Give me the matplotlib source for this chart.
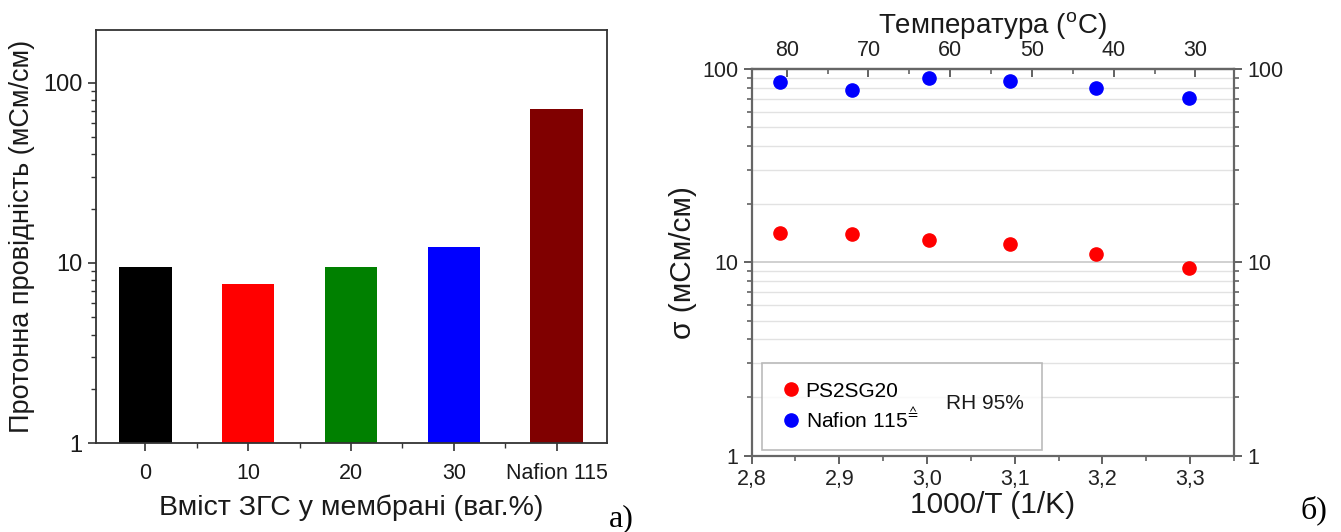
import matplotlib.pyplot as plt
from matplotlib.ticker import FuncFormatter, LogLocator, MultipleLocator, NullFormatter

plt.rcParams['font.family'] = ['Liberation Sans', 'DejaVu Sans']
plt.rcParams['mathtext.fontset'] = 'custom'
plt.rcParams['mathtext.rm'] = 'Liberation Sans'

# panel a: conductivity vs filler content
categories = ['0', '10', '20', '30', 'Nafion 115']
conductivity = [9.5, 7.6, 9.5, 12.3, 71.7]
bar_colors = ['#000000', '#ff0000', '#008000', '#0000ff', '#800000']

# panel b: conductivity vs 1000/T
inv_temp = [2.832, 2.914, 3.002, 3.095, 3.193, 3.299]
sigma_ps2sg20 = [14.1, 14.0, 13.0, 12.4, 11.0, 9.3]
sigma_nafion = [86.0, 77.8, 89.5, 86.7, 79.8, 70.4]
temp_labels = [80, 70, 60, 50, 40, 30]

fig = plt.figure(figsize=(13.41, 5.32), dpi=100)

# ---- a) ----
ax1 = fig.add_axes([0.0716, 0.1667, 0.381, 0.777])
xs = range(len(categories))
ax1.bar(xs, conductivity, width=0.51, color=bar_colors, bottom=0)
ax1.set_yscale('log')
ax1.set_ylim(1, 196)
ax1.set_xlim(-0.48, 4.49)
ax1.set_xticks(list(xs))
ax1.set_xticklabels(categories)
ax1.xaxis.set_minor_locator(MultipleLocator(0.5))
ax1.yaxis.set_major_locator(LogLocator(base=10))
ax1.yaxis.set_minor_locator(LogLocator(base=10, subs=range(2, 10)))
ax1.yaxis.set_minor_formatter(NullFormatter())
ax1.yaxis.set_major_formatter(FuncFormatter(lambda v, p: '%g' % v))
ax1.tick_params(axis='both', which='major', direction='out', length=6, width=1.2, colors='#333333')
ax1.tick_params(axis='both', which='minor', direction='out', length=3.5, width=1.0, colors='#333333')
ax1.tick_params(axis='x', which='major', labelsize=15.5, labelcolor='#1a1a1a', pad=8)
ax1.tick_params(axis='y', which='major', labelsize=17, labelcolor='#1a1a1a')
for s in ax1.spines.values():
    s.set_color('#333333')
    s.set_linewidth(1.3)
ax1.set_xlabel('Вміст ЗГС у мембрані (ваг.%)', fontsize=20.5, color='#1a1a1a', labelpad=8)
ax1.set_ylabel('Протонна провідність (мСм/см)', fontsize=19.5, color='#1a1a1a', labelpad=6)

# ---- б) ----
ax2 = fig.add_axes([0.5605, 0.1434, 0.3597, 0.727])
ax2.set_yscale('log')
ax2.set_ylim(1, 100)
ax2.set_xlim(2.8, 3.35)
ax2.yaxis.set_major_locator(LogLocator(base=10))
ax2.yaxis.set_minor_locator(LogLocator(base=10, subs=range(2, 10)))
ax2.yaxis.set_minor_formatter(NullFormatter())
ax2.yaxis.set_major_formatter(FuncFormatter(lambda v, p: '%g' % v))
ax2.grid(True, which='minor', axis='y', color='#e2e2e2', linewidth=1.0)
ax2.grid(True, which='major', axis='y', color='#c8c8c8', linewidth=1.2)
ax2.set_axisbelow(True)

ax2.plot(inv_temp, sigma_ps2sg20, 'o', color='#ff0000', markersize=9.5, label='PS2SG20', zorder=3)
ax2.plot(inv_temp, sigma_nafion, 'o', color='#0000ff', markersize=9.5,
         label='Nafion 115$^{\u2259}$', zorder=3)

ax2.xaxis.set_major_locator(MultipleLocator(0.1))
ax2.xaxis.set_minor_locator(MultipleLocator(0.05))
ax2.xaxis.set_major_formatter(FuncFormatter(lambda v, p: ('%.1f' % v).replace('.', ',')))
ax2.tick_params(axis='both', which='major', direction='out', length=6, width=1.3, colors='#555555',
                labelcolor='#222222', labelsize=15.5)
ax2.tick_params(axis='both', which='minor', direction='out', length=3.5, width=1.1, colors='#555555')
ax2.tick_params(axis='y', which='both', right=True, labelright=True)
ax2.tick_params(axis='x', which='both', top=False)
for s in ax2.spines.values():
    s.set_color('#666666')
    s.set_linewidth(1.6)
ax2.set_xlabel('1000/T (1/K)', fontsize=21.5, color='#1a1a1a', labelpad=1)
ax2.set_ylabel('σ (мСм/см)', fontsize=21.5, color='#1a1a1a', labelpad=4)


def inv_to_temp(x):
    return 80 - (x - 2.840) / 0.00932


def temp_to_inv(t):
    return 2.840 + (80 - t) * 0.00932


top = ax2.secondary_xaxis('top', functions=(inv_to_temp, temp_to_inv))
top.set_xticks(temp_labels)
top.xaxis.set_minor_locator(MultipleLocator(5))
top.tick_params(which='major', direction='in', length=6, width=1.3, colors='#555555',
                labelcolor='#222222', labelsize=15.5, pad=6)
top.tick_params(which='minor', direction='in', length=3.5, width=1.1, colors='#555555')
top.spines['top'].set_color('#666666')
top.spines['top'].set_linewidth(1.6)
top.set_xlabel('Температура ($^{\\mathrm{o}}$C)', fontsize=20, color='#1a1a1a', labelpad=4)

leg = ax2.legend(loc='upper left', bbox_to_anchor=(0.021, 0.042, 0.582, 0.198), mode='expand',
                 fontsize=15, frameon=True, fancybox=False, edgecolor='#aaaaaa',
                 handletextpad=0.2, handlelength=1.0, markerscale=1.0, borderaxespad=0,
                 labelspacing=0.25, borderpad=0.9)
leg.get_frame().set_linewidth(1.2)
ax2.text(0.484, 0.136, 'RH 95%', transform=ax2.transAxes, fontsize=15, ha='center', va='center',
         color='#1a1a1a', zorder=10)

fig.text(0.463, 0.01, 'а)', family='Liberation Serif', fontsize=23, ha='center')
fig.text(0.9795, 0.025, 'б)', family='Liberation Serif', fontsize=23, ha='center')

fig.savefig('out.png', dpi=100)
